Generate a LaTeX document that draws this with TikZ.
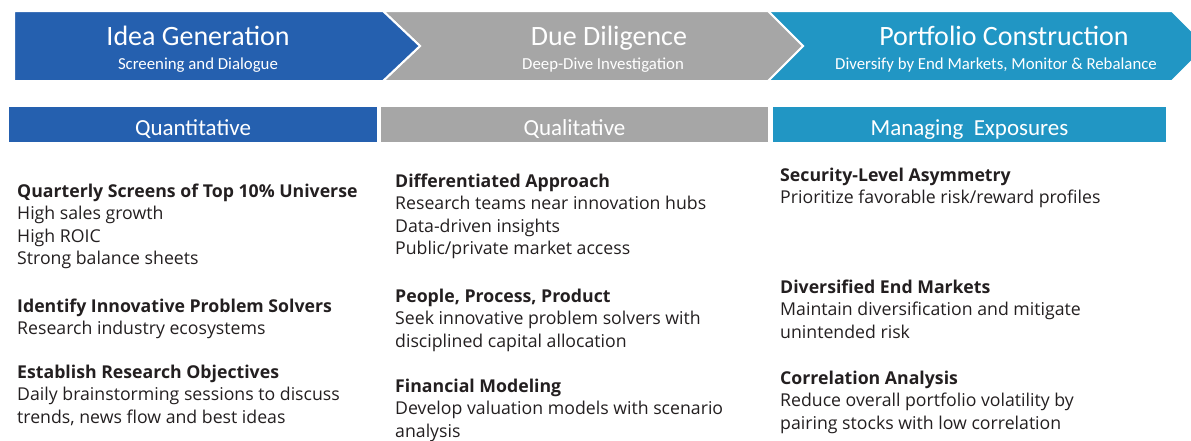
\documentclass[tikz,border=0pt]{standalone}
\usepackage{fontspec}
\setmainfont{Open Sans}
\newfontfamily\headfont{Carlito}
\usetikzlibrary{positioning}

\definecolor{ideablue}{RGB}{37,96,175}
\definecolor{diligray}{RGB}{166,166,166}
\definecolor{portteal}{RGB}{33,150,196}
\definecolor{bodyink}{RGB}{35,31,32}

\tikzset{
  stage/.style={draw=white, line width=2pt},
  stagetitle/.style={anchor=base, text=white, inner sep=0, font=\headfont\fontsize{28}{32}\selectfont},
  stagesub/.style={anchor=base, text=white, inner sep=0, font=\headfont\fontsize{16.8}{20}\selectfont},
  bar/.style={text=white, inner sep=0, minimum height=35pt, text height=22pt, text depth=0pt, font=\headfont\fontsize{23}{26}\selectfont},
  block/.style={anchor=north west, inner sep=0, align=left, text=bodyink, font=\fontsize{17.7}{22.5}\selectfont}
}

\begin{document}
\begin{tikzpicture}[x=1pt, y=-1pt]
    \useasboundingbox (0,0) rectangle (1191,440);

    % chevrons
    \fill[stage, fill=portteal] (768,11) -- (1172,11) -- (1207,46) -- (1172,81) -- (768,81) -- (803,46) -- cycle;
    \fill[stage, fill=diligray] (383,11) -- (768,11) -- (803,46) -- (768,81) -- (383,81) -- (420,46) -- cycle;
    \fill[stage, fill=ideablue] (14,11) -- (383,11) -- (420,46) -- (383,81) -- (14,81) -- cycle;

    \node[stagetitle] (idea) at (198,45) {Idea Generation};
    \node[stagesub] (ideasub) at (198,69) {Screening and Dialogue};
    \node[stagetitle] (due) at (609,45) {Due Diligence};
    \node[stagesub] (duesub) at (603,69) {Deep-Dive Investigation};
    \node[stagetitle] (port) at (1004,45) {Portfolio Construction};
    \node[stagesub] (portsub) at (996,69) {Diversify by End Markets, Monitor \& Rebalance};

    % column headers
    \node[bar, fill=ideablue, minimum width=368pt] (quant) at (193,124) {Quantitative};
    \node[bar, fill=diligray, minimum width=387pt] (qual) at (574.5,124) {Qualitative};
    \node[bar, fill=portteal, minimum width=393pt] (expo) at (969.5,124) {Managing~ Exposures};

    % quantitative column
    \node[block] (screens) at (17,183.5) {\textbf{Quarterly Screens of Top 10\% Universe}\\High sales growth\\High ROIC\\Strong balance sheets};
    \node[block] (solvers) at (17,298.5) {\textbf{Identify Innovative Problem Solvers}\\Research industry ecosystems};
    \node[block] (objectives) at (17,364.5) {\textbf{Establish Research Objectives}\\Daily brainstorming sessions to discuss\\trends, news flow and best ideas};

    % qualitative column
    \node[block] (approach) at (395,173.5) {\textbf{Differentiated Approach}\\Research teams near innovation hubs\\Data-driven insights\\Public/private market access};
    \node[block] (people) at (395,288.5) {\textbf{People, Process, Product}\\Seek innovative problem solvers with\\disciplined capital allocation};
    \node[block] (modeling) at (395,378.5) {\textbf{Financial Modeling}\\Develop valuation models with scenario\\analysis};

    % exposures column
    \node[block] (asym) at (780,167.5) {\textbf{Security-Level Asymmetry}\\Prioritize favorable risk/reward profiles};
    \node[block] (markets) at (780,279.5) {\textbf{Diversified End Markets}\\Maintain diversification and mitigate\\unintended risk};
    \node[block] (corr) at (780,370.5) {\textbf{Correlation Analysis}\\Reduce overall portfolio volatility by\\pairing stocks with low correlation};
\end{tikzpicture}
\end{document}
